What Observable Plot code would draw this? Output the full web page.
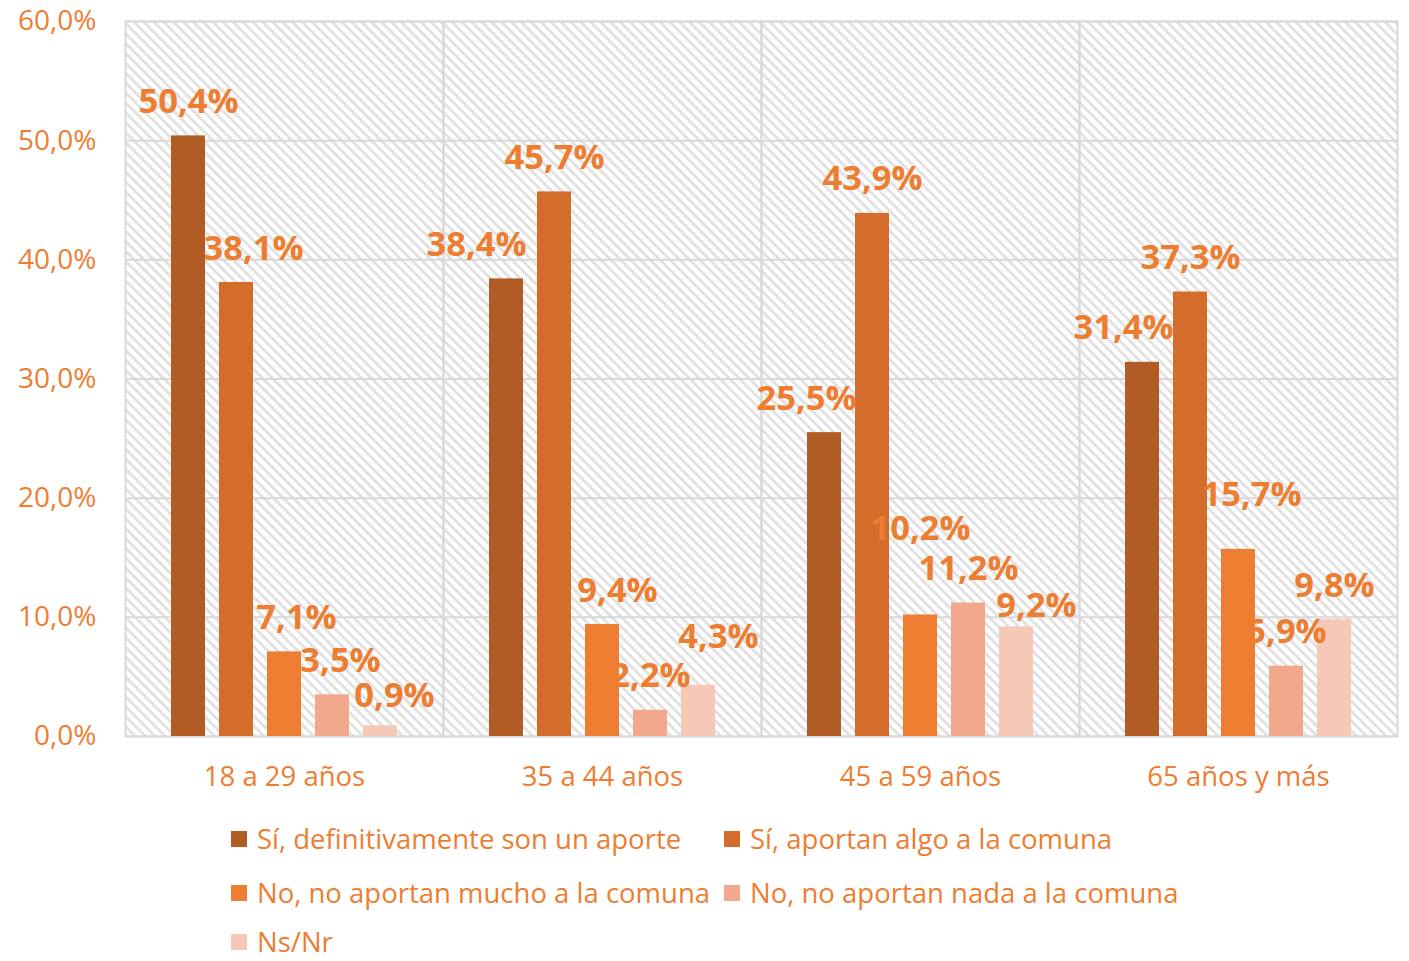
<!DOCTYPE html>
<html>
<head>
<meta charset="utf-8">
<script src="https://cdn.jsdelivr.net/npm/d3@7"></script>
<script src="https://cdn.jsdelivr.net/npm/@observablehq/plot@0.6"></script>
<style>
  html, body { margin: 0; padding: 0; background: #fff; }
  #chart { width: 1409px; }
  #legend { position: relative; width: 1409px; margin-top: 12px; font-family: "Open Sans", sans-serif; font-size: 27.5px; line-height: 28px; color: #ED7D31; }
  .row { display: flex; height: 54px; align-items: center; padding-left: 231px; }
  .row:last-child { height: 28px; margin-top: 8px; }
  .item { display: flex; align-items: center; width: 493px; white-space: nowrap; }
  .sw { width: 16px; height: 16px; margin-right: 10px; flex: none; }
</style>
</head>
<body>
<div id="chart"></div>
<div id="legend"></div>
<script>
const categories = ["18 a 29 años", "35 a 44 años", "45 a 59 años", "65 años y más"];
const series = [
  "Sí, definitivamente son un aporte",
  "Sí, aportan algo a la comuna",
  "No, no aportan mucho a la comuna",
  "No, no aportan nada a la comuna",
  "Ns/Nr"
];
const definitivamente = [50.4, 38.4, 25.5, 31.4];
const algo = [38.1, 45.7, 43.9, 37.3];
const mucho = [7.1, 9.4, 10.2, 15.7];
const nada = [3.5, 2.2, 11.2, 5.9];
const nsnr = [0.9, 4.3, 9.2, 9.8];
const yTicks = [0, 10, 20, 30, 40, 50, 60];
const colors = ["#B05C24", "#D46D2C", "#ED7D31", "#F1A88B", "#F6C8B8"];

// manual label nudges (dx, dy in px) as in the original chart, by category then series
const labelNudge = [
  [[0, 0], [17, 0], [12, 0], [8, 0], [14, 4]],
  [[-30, 0], [0, 0], [15, 0], [0, 0], [20, -14]],
  [[-18, 0], [0, 0], [0, -52], [0, 0], [20, 13]],
  [[-19, 0], [0, 0], [13, -20], [0, 0], [0, 0]]
];

const seriesValues = [definitivamente, algo, mucho, nada, nsnr];
const data = [];
categories.forEach((c, ci) => {
  series.forEach((s, si) => {
    data.push({category: c, series: s, value: seriesValues[si][ci], ci, si});
  });
});

const fmt = v => v.toFixed(1).replace(".", ",") + "%";

const labelMarks = data.map(d => Plot.text([d], {
  fx: "category", x: "series", y: "value",
  text: d => fmt(d.value),
  dx: labelNudge[d.ci][d.si][0],
  dy: -34 + labelNudge[d.ci][d.si][1],
  fill: "#ED7D31", fontWeight: "bold", fontSize: 34.5, textAnchor: "middle"
}));

const chart = Plot.plot({
  width: 1409,
  height: 800,
  marginLeft: 124,
  marginRight: 12,
  marginTop: 21,
  marginBottom: 64,
  style: {fontFamily: "'Open Sans', sans-serif", fontSize: "27.5px", color: "#ED7D31", background: "white"},
  fx: {domain: categories, padding: 0, label: null},
  x: {domain: series, paddingInner: 0.3, paddingOuter: 0.93, axis: null},
  y: {domain: [0, 60], label: null},
  color: {domain: series, range: colors},
  marks: [
    Plot.frame({fill: "url(#hatch)", stroke: null}),
    Plot.gridY(yTicks, {stroke: "#d9d9d9", strokeOpacity: 1, strokeWidth: 2}),
    Plot.frame({stroke: "#d9d9d9", strokeWidth: 2}),
    Plot.barY(data, {fx: "category", x: "series", y: "value", fill: "series"}),
    ...labelMarks,
    Plot.axisY(yTicks, {tickSize: 0, tickPadding: 29, tickFormat: v => v.toFixed(1).replace(".", ",") + "%", fontSize: 28, fill: "#ED7D31", label: null}),
    Plot.axisFx({anchor: "bottom", tickSize: 0, tickPadding: 30, fontSize: 27.5, fill: "#ED7D31", label: null})
  ]
});

// hatch pattern definition
const ns = "http://www.w3.org/2000/svg";
const defs = document.createElementNS(ns, "defs");
const pat = document.createElementNS(ns, "pattern");
pat.setAttribute("id", "hatch");
pat.setAttribute("patternUnits", "userSpaceOnUse");
pat.setAttribute("width", "7");
pat.setAttribute("height", "7");
pat.setAttribute("patternTransform", "rotate(-45)");
const bg = document.createElementNS(ns, "rect");
bg.setAttribute("width", "7"); bg.setAttribute("height", "7"); bg.setAttribute("fill", "#ffffff");
const ln = document.createElementNS(ns, "rect");
ln.setAttribute("x", "0"); ln.setAttribute("y", "0"); ln.setAttribute("width", "3"); ln.setAttribute("height", "7"); ln.setAttribute("fill", "#e2e2e2");
pat.appendChild(bg); pat.appendChild(ln);
defs.appendChild(pat);
chart.insertBefore(defs, chart.firstChild);

document.getElementById("chart").appendChild(chart);

// legend
const legend = document.getElementById("legend");
const rows = [[0, 1], [2, 3], [4]];
rows.forEach(r => {
  const row = document.createElement("div");
  row.className = "row";
  r.forEach(i => {
    const it = document.createElement("div");
    it.className = "item";
    const sw = document.createElement("span");
    sw.className = "sw";
    sw.style.background = colors[i];
    const tx = document.createElement("span");
    tx.textContent = series[i];
    it.appendChild(sw); it.appendChild(tx);
    row.appendChild(it);
  });
  legend.appendChild(row);
});
</script>
</body>
</html>
